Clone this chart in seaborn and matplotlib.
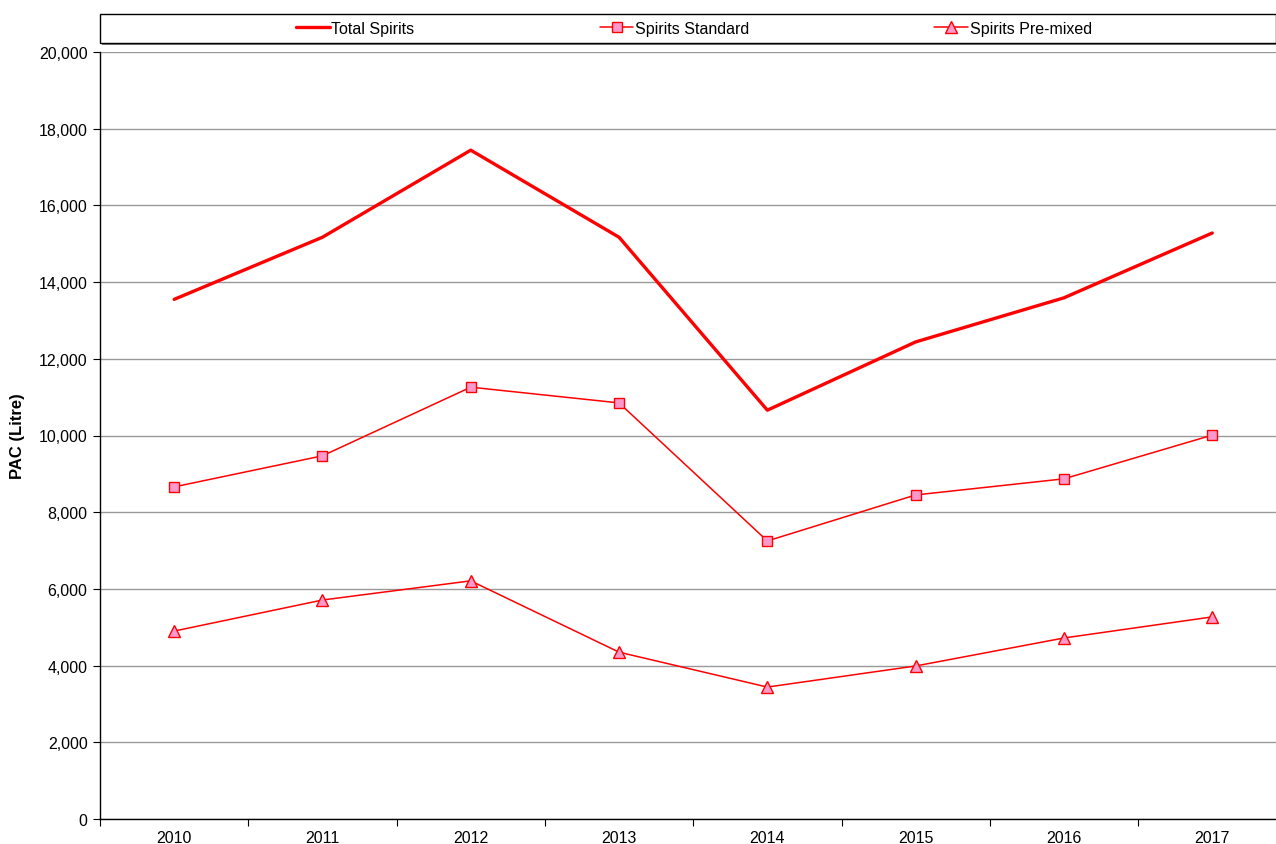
import numpy as np
import pandas as pd
import matplotlib
matplotlib.use("Agg")
import matplotlib.pyplot as plt
from matplotlib.patches import Rectangle
from matplotlib.ticker import FuncFormatter, FixedLocator
import seaborn as sns

# values
years = ["2010", "2011", "2012", "2013", "2014", "2015", "2016", "2017"]
total_spirits = [13550, 15170, 17440, 15170, 10660, 12440, 13590, 15280]
spirits_standard = [8660, 9470, 11260, 10850, 7250, 8450, 8870, 10010]
spirits_premixed = [4900, 5710, 6210, 4350, 3440, 3990, 4720, 5270]

sns.set_style("white")
plt.rcParams["font.family"] = ["Liberation Sans", "DejaVu Sans"]
plt.rcParams["font.size"] = 11.5
plt.rcParams["text.color"] = "black"
plt.rcParams["xtick.color"] = "black"
plt.rcParams["ytick.color"] = "black"
plt.rcParams["axes.labelcolor"] = "black"

W, H = 1276, 845
fig = plt.figure(figsize=(W / 100, H / 100), dpi=100)
ax = fig.add_axes([100 / W, (H - 820) / H, (W - 100) / W, (820 - 53) / H])

pos = np.arange(len(years))
red = "#FF0000"
pink = "#FF99CC"

sns.lineplot(x=pos, y=total_spirits, ax=ax, color=red, linewidth=2.4,
             label="Total Spirits")
sns.lineplot(x=pos, y=spirits_standard, ax=ax, color=red, linewidth=1.1,
             marker="s", markersize=7.5, markerfacecolor=pink,
             markeredgecolor=red, markeredgewidth=1.0,
             label="Spirits Standard")
sns.lineplot(x=pos, y=spirits_premixed, ax=ax, color=red, linewidth=1.1,
             marker="^", markersize=8.5, markerfacecolor=pink,
             markeredgecolor=red, markeredgewidth=1.0,
             label="Spirits Pre-mixed")

ax.set_xlim(-0.5, -0.5 + (W - 100) / 148.3)
ax.set_ylim(0, 20000)
ax.set_yticks(np.arange(0, 20001, 2000))
ax.yaxis.set_major_formatter(FuncFormatter(lambda v, p: f"{int(v):,}"))
ax.set_xticks(pos)
ax.set_xticklabels(years)
ax.xaxis.set_minor_locator(FixedLocator(np.arange(-0.5, 8, 1)))
ax.tick_params(axis="x", which="major", length=0, pad=8, labelsize=11.5)
ax.tick_params(axis="x", which="minor", length=5, width=0.8, direction="out",
               bottom=True, color="black")
ax.tick_params(axis="y", length=5, width=0.8, direction="out", left=True,
               pad=4, labelsize=11.5, color="black")

ax.grid(axis="y", color="#999999", linewidth=1.0)
ax.set_axisbelow(True)
for s in ["top", "right"]:
    ax.spines[s].set_visible(False)
for s in ["left", "bottom"]:
    ax.spines[s].set_color("black")
    ax.spines[s].set_linewidth(1.0)

ax.set_xlabel("")
ax.set_ylabel("PAC (Litre)", fontsize=12, fontweight="bold", labelpad=10)

# legend box with shadow across the top
handles, labels = ax.get_legend_handles_labels()
ax.get_legend().remove()
fig.patches.append(Rectangle((102 / W, 1 - 46 / H), (W - 100) / W, 31 / H,
                             transform=fig.transFigure, facecolor="#808080",
                             edgecolor="none", zorder=0))
fig.patches.append(Rectangle((100 / W, 1 - 44 / H), (W - 100) / W, 29 / H,
                             transform=fig.transFigure, facecolor="white",
                             edgecolor="black", linewidth=1.0, zorder=1))
fig.legend(handles, labels, loc="center", bbox_to_anchor=(694 / W, 1 - 29.5 / H),
           ncol=3, frameon=False, fontsize=11.5, handlelength=2.1,
           handletextpad=0.1, columnspacing=11.6, borderaxespad=0)

fig.savefig("out.png", dpi=100)
